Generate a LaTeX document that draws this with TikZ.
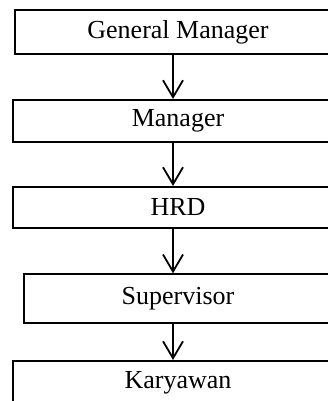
\documentclass[tikz,border=0pt]{standalone}
\usepackage{fontspec}
\setmainfont{Liberation Serif}
\usetikzlibrary{arrows.meta}
\begin{document}
\begin{tikzpicture}[x=1pt,y=-1pt,
  box/.style={draw=black,line width=2pt,rectangle,inner sep=0pt,anchor=north west,
    font=\fontsize{26}{30}\selectfont},
  conn/.style={line width=1.8pt,-{Straight Barb[length=17pt,width=20pt,line width=1.8pt]}}]
\clip (0,0) rectangle (328,401);
\useasboundingbox (0,0) rectangle (328,401);
\node[box,minimum width=326pt,minimum height=43.4pt] (gm) at (14,9.3) {General Manager};
\node[box,minimum width=330pt,minimum height=41.5pt] (mg) at (12,99) {Manager};
\node[box,minimum width=330pt,minimum height=40.5pt] (hrd) at (12,186) {HRD};
\node[box,minimum width=308pt,minimum height=48.4pt] (sup) at (23,273.3) {Supervisor};
\node[box,minimum width=330pt,minimum height=43pt] (kar) at (12,360) {Karyawan};
\coordinate (ax) at (173,0);
\draw[conn] (gm.south -| ax) -- (mg.north -| ax);
\draw[conn] (mg.south -| ax) -- (hrd.north -| ax);
\draw[conn] (hrd.south -| ax) -- (sup.north -| ax);
\draw[conn] (sup.south -| ax) -- (kar.north -| ax);
\end{tikzpicture}
\end{document}
